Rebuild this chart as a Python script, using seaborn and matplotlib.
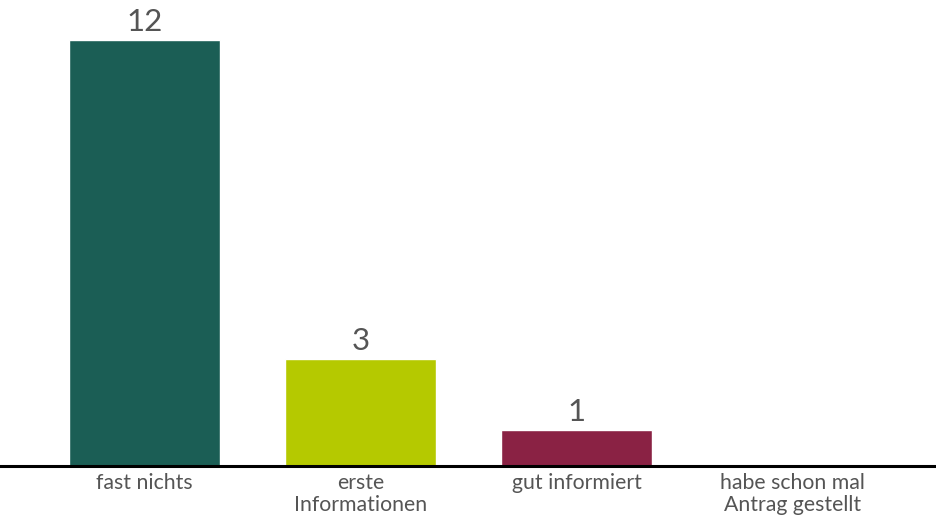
import numpy as np
import pandas as pd
import seaborn as sns
import matplotlib.pyplot as plt

sns.set_style("white")
plt.rcParams['font.family'] = ['Lato', 'DejaVu Sans']

categories = ['fast nichts', 'erste\nInformationen', 'gut informiert', 'habe schon mal\nAntrag gestellt']
values = [12, 3, 1, 0]
colors = ['#1b5e55', '#b5c900', '#8a2244', '#888888']

df = pd.DataFrame({'cat': categories, 'val': values})

fig = plt.figure(figsize=(9.36, 5.16), dpi=100)
ax = fig.add_axes([0.0, 0.097, 1.0, 0.903])

sns.barplot(data=df, x='cat', y='val', hue='cat', palette=colors,
            legend=False, width=0.7, saturation=1, ax=ax)

# value labels, skip empty bars
for cont, v in zip(ax.containers, values):
    if v > 0:
        ax.bar_label(cont, labels=[str(v)], padding=3, fontsize=22.5, color='#555555')

ax.set_xlim(-0.669, 3.664)
ax.set_ylim(0, 13.13)
ax.set_xlabel('')
ax.set_ylabel('')
ax.set_yticks([])
ax.tick_params(axis='x', length=0, pad=5, labelsize=15.3, labelcolor='#555555')
for lab in ax.get_xticklabels():
    lab.set_linespacing(1.12)

sns.despine(ax=ax, left=True, top=True, right=True)
ax.spines['bottom'].set_color('black')
ax.spines['bottom'].set_linewidth(2.2)

fig.savefig('out.png', dpi=100)
